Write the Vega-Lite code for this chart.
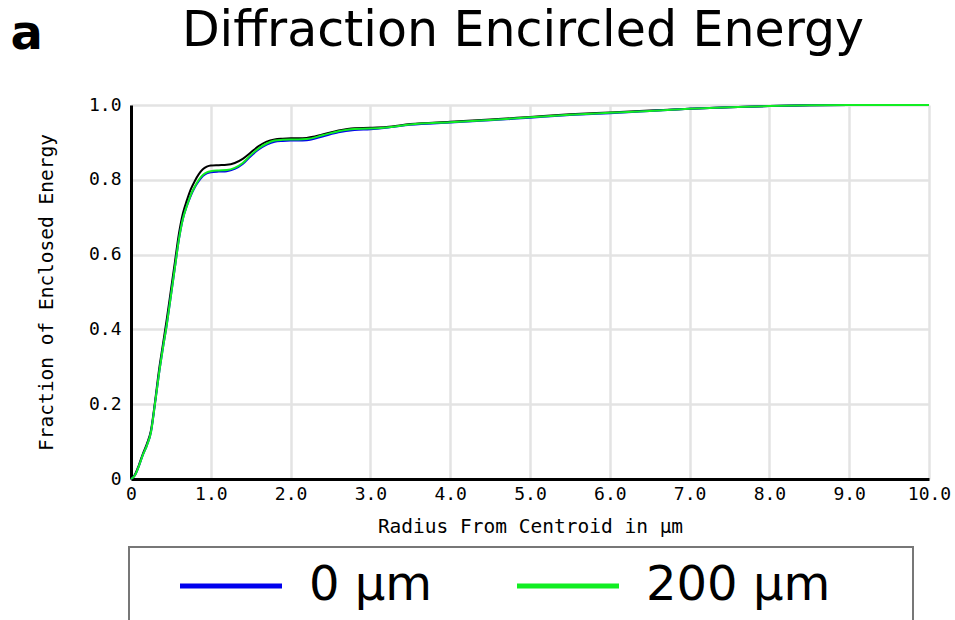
{
  "$schema": "https://vega.github.io/schema/vega-lite/v6.json",
  "width": 798,
  "height": 374,
  "autosize": {"type": "none"},
  "padding": {"left": 131, "top": 105, "right": 26, "bottom": 141},
  "background": "white",
  "title": {"text": "Diffraction Encircled Energy", "font": "DejaVu Sans", "fontSize": 49, "fontWeight": "normal", "color": "black", "anchor": "middle", "frame": "group", "dx": -7, "dy": 46, "offset": 0},
  "config": {
    "view": {"stroke": null},
    "axis": {"labelFont": "DejaVu Sans Mono", "labelFontSize": 18, "labelColor": "black", "titleFont": "DejaVu Sans Mono", "titleFontSize": 19.5, "titleFontWeight": "normal", "titleColor": "black"},
    "legend": {"strokeWidth": 2}
  },
  "datasets": {
    "diff": [
      {"r": 0, "ee": 0}, {"r": 0.05, "ee": 0.012}, {"r": 0.1, "ee": 0.038}, {"r": 0.15, "ee": 0.068}, {"r": 0.2, "ee": 0.095}, {"r": 0.25, "ee": 0.13}, {"r": 0.3, "ee": 0.205}, {"r": 0.35, "ee": 0.29}, {"r": 0.4, "ee": 0.36}, {"r": 0.45, "ee": 0.43}, {"r": 0.5, "ee": 0.505}, {"r": 0.55, "ee": 0.58}, {"r": 0.6, "ee": 0.655}, {"r": 0.65, "ee": 0.71}, {"r": 0.7, "ee": 0.745}, {"r": 0.75, "ee": 0.775}, {"r": 0.8, "ee": 0.797}, {"r": 0.85, "ee": 0.815}, {"r": 0.9, "ee": 0.828}, {"r": 0.95, "ee": 0.835}, {"r": 1.0, "ee": 0.838}, {"r": 1.1, "ee": 0.839}, {"r": 1.2, "ee": 0.84}, {"r": 1.3, "ee": 0.845}, {"r": 1.4, "ee": 0.856}, {"r": 1.5, "ee": 0.873}, {"r": 1.6, "ee": 0.89}, {"r": 1.7, "ee": 0.902}, {"r": 1.8, "ee": 0.908}, {"r": 1.9, "ee": 0.91}, {"r": 2.0, "ee": 0.911}, {"r": 2.1, "ee": 0.911}, {"r": 2.2, "ee": 0.912}, {"r": 2.4, "ee": 0.921}, {"r": 2.6, "ee": 0.932}, {"r": 2.8, "ee": 0.938}, {"r": 3.0, "ee": 0.939}, {"r": 3.2, "ee": 0.941}, {"r": 3.5, "ee": 0.949}, {"r": 4.0, "ee": 0.955}, {"r": 4.5, "ee": 0.961}, {"r": 5.0, "ee": 0.968}, {"r": 5.5, "ee": 0.975}, {"r": 6.0, "ee": 0.98}, {"r": 6.5, "ee": 0.985}, {"r": 7.0, "ee": 0.99}, {"r": 7.5, "ee": 0.994}, {"r": 8.0, "ee": 0.997}, {"r": 8.5, "ee": 0.999}, {"r": 9.0, "ee": 1.0}, {"r": 10.0, "ee": 1.0}
    ],
    "fields": [
      {"r": 0, "ee": 0, "s": "0 µm"}, {"r": 0.05, "ee": 0.01, "s": "0 µm"}, {"r": 0.1, "ee": 0.035, "s": "0 µm"}, {"r": 0.15, "ee": 0.065, "s": "0 µm"}, {"r": 0.2, "ee": 0.09, "s": "0 µm"}, {"r": 0.25, "ee": 0.125, "s": "0 µm"}, {"r": 0.3, "ee": 0.2, "s": "0 µm"}, {"r": 0.35, "ee": 0.28, "s": "0 µm"}, {"r": 0.4, "ee": 0.35, "s": "0 µm"}, {"r": 0.45, "ee": 0.415, "s": "0 µm"}, {"r": 0.5, "ee": 0.49, "s": "0 µm"}, {"r": 0.55, "ee": 0.565, "s": "0 µm"}, {"r": 0.6, "ee": 0.64, "s": "0 µm"}, {"r": 0.65, "ee": 0.695, "s": "0 µm"}, {"r": 0.7, "ee": 0.73, "s": "0 µm"}, {"r": 0.75, "ee": 0.758, "s": "0 µm"}, {"r": 0.8, "ee": 0.78, "s": "0 µm"}, {"r": 0.85, "ee": 0.797, "s": "0 µm"}, {"r": 0.9, "ee": 0.81, "s": "0 µm"}, {"r": 0.95, "ee": 0.817, "s": "0 µm"}, {"r": 1.0, "ee": 0.82, "s": "0 µm"}, {"r": 1.1, "ee": 0.822, "s": "0 µm"}, {"r": 1.2, "ee": 0.823, "s": "0 µm"}, {"r": 1.3, "ee": 0.829, "s": "0 µm"}, {"r": 1.4, "ee": 0.842, "s": "0 µm"}, {"r": 1.5, "ee": 0.863, "s": "0 µm"}, {"r": 1.6, "ee": 0.881, "s": "0 µm"}, {"r": 1.7, "ee": 0.894, "s": "0 µm"}, {"r": 1.8, "ee": 0.902, "s": "0 µm"}, {"r": 1.9, "ee": 0.904, "s": "0 µm"}, {"r": 2.0, "ee": 0.905, "s": "0 µm"}, {"r": 2.1, "ee": 0.905, "s": "0 µm"}, {"r": 2.2, "ee": 0.906, "s": "0 µm"}, {"r": 2.4, "ee": 0.916, "s": "0 µm"}, {"r": 2.6, "ee": 0.927, "s": "0 µm"}, {"r": 2.8, "ee": 0.933, "s": "0 µm"}, {"r": 3.0, "ee": 0.935, "s": "0 µm"}, {"r": 3.2, "ee": 0.939, "s": "0 µm"}, {"r": 3.5, "ee": 0.947, "s": "0 µm"}, {"r": 4.0, "ee": 0.953, "s": "0 µm"}, {"r": 4.5, "ee": 0.959, "s": "0 µm"}, {"r": 5.0, "ee": 0.966, "s": "0 µm"}, {"r": 5.5, "ee": 0.973, "s": "0 µm"}, {"r": 6.0, "ee": 0.978, "s": "0 µm"}, {"r": 6.5, "ee": 0.984, "s": "0 µm"}, {"r": 7.0, "ee": 0.99, "s": "0 µm"}, {"r": 7.5, "ee": 0.994, "s": "0 µm"}, {"r": 8.0, "ee": 0.997, "s": "0 µm"}, {"r": 8.5, "ee": 0.999, "s": "0 µm"}, {"r": 9.0, "ee": 1.0, "s": "0 µm"}, {"r": 10.0, "ee": 1.0, "s": "0 µm"},
      {"r": 0, "ee": 0, "s": "200 µm"}, {"r": 0.05, "ee": 0.01, "s": "200 µm"}, {"r": 0.1, "ee": 0.035, "s": "200 µm"}, {"r": 0.15, "ee": 0.065, "s": "200 µm"}, {"r": 0.2, "ee": 0.09, "s": "200 µm"}, {"r": 0.25, "ee": 0.125, "s": "200 µm"}, {"r": 0.3, "ee": 0.2, "s": "200 µm"}, {"r": 0.35, "ee": 0.28, "s": "200 µm"}, {"r": 0.4, "ee": 0.35, "s": "200 µm"}, {"r": 0.45, "ee": 0.415, "s": "200 µm"}, {"r": 0.5, "ee": 0.49, "s": "200 µm"}, {"r": 0.55, "ee": 0.565, "s": "200 µm"}, {"r": 0.6, "ee": 0.64, "s": "200 µm"}, {"r": 0.65, "ee": 0.695, "s": "200 µm"}, {"r": 0.7, "ee": 0.73, "s": "200 µm"}, {"r": 0.75, "ee": 0.76, "s": "200 µm"}, {"r": 0.8, "ee": 0.782, "s": "200 µm"}, {"r": 0.85, "ee": 0.8, "s": "200 µm"}, {"r": 0.9, "ee": 0.813, "s": "200 µm"}, {"r": 0.95, "ee": 0.82, "s": "200 µm"}, {"r": 1.0, "ee": 0.823, "s": "200 µm"}, {"r": 1.1, "ee": 0.825, "s": "200 µm"}, {"r": 1.2, "ee": 0.826, "s": "200 µm"}, {"r": 1.3, "ee": 0.832, "s": "200 µm"}, {"r": 1.4, "ee": 0.845, "s": "200 µm"}, {"r": 1.5, "ee": 0.866, "s": "200 µm"}, {"r": 1.6, "ee": 0.884, "s": "200 µm"}, {"r": 1.7, "ee": 0.897, "s": "200 µm"}, {"r": 1.8, "ee": 0.905, "s": "200 µm"}, {"r": 1.9, "ee": 0.907, "s": "200 µm"}, {"r": 2.0, "ee": 0.908, "s": "200 µm"}, {"r": 2.1, "ee": 0.908, "s": "200 µm"}, {"r": 2.2, "ee": 0.909, "s": "200 µm"}, {"r": 2.4, "ee": 0.919, "s": "200 µm"}, {"r": 2.6, "ee": 0.93, "s": "200 µm"}, {"r": 2.8, "ee": 0.936, "s": "200 µm"}, {"r": 3.0, "ee": 0.937, "s": "200 µm"}, {"r": 3.2, "ee": 0.94, "s": "200 µm"}, {"r": 3.5, "ee": 0.948, "s": "200 µm"}, {"r": 4.0, "ee": 0.954, "s": "200 µm"}, {"r": 4.5, "ee": 0.96, "s": "200 µm"}, {"r": 5.0, "ee": 0.967, "s": "200 µm"}, {"r": 5.5, "ee": 0.974, "s": "200 µm"}, {"r": 6.0, "ee": 0.979, "s": "200 µm"}, {"r": 6.5, "ee": 0.984, "s": "200 µm"}, {"r": 7.0, "ee": 0.99, "s": "200 µm"}, {"r": 7.5, "ee": 0.994, "s": "200 µm"}, {"r": 8.0, "ee": 0.997, "s": "200 µm"}, {"r": 8.5, "ee": 0.999, "s": "200 µm"}, {"r": 9.0, "ee": 1.0, "s": "200 µm"}, {"r": 10.0, "ee": 1.0, "s": "200 µm"}
    ]
  },
  "layer": [
    {
      "data": {"name": "diff"},
      "mark": {"type": "line", "color": "black", "strokeWidth": 2, "interpolate": "monotone"},
      "encoding": {
        "x": {"field": "r", "type": "quantitative", "scale": {"domain": [0, 10], "nice": false},
          "axis": {"orient": "top", "title": "a", "labels": false, "ticks": false, "domain": false, "grid": false,
            "titleFont": "DejaVu Sans", "titleFontWeight": "bold", "titleFontSize": 48, "titleX": -121, "titleY": -57, "titleAlign": "left", "titleBaseline": "alphabetic", "titleAngle": 0}},
        "y": {"field": "ee", "type": "quantitative", "scale": {"domain": [0, 1], "nice": false},
          "axis": {"title": "Fraction of Enclosed Energy", "values": [0, 0.1, 0.2, 0.3, 0.4, 0.5, 0.6, 0.7, 0.8, 0.9, 1.0],
            "labelExpr": "datum.value == 0 ? '0' : (round(datum.value * 10) % 2 == 0 ? format(datum.value, '.1f') : '')",
            "grid": true, "gridColor": "#e3e3e3", "gridWidth": 2.5, "ticks": false, "domain": true, "domainColor": "black", "domainWidth": 3,
            "labelPadding": 10, "titlePadding": 32}}
      }
    },
    {
      "data": {"name": "fields"},
      "mark": {"type": "line", "strokeWidth": 2, "interpolate": "monotone"},
      "encoding": {
        "x": {"field": "r", "type": "quantitative", "scale": {"domain": [0, 10], "nice": false},
          "axis": {"orient": "bottom", "title": "Radius From Centroid in µm", "values": [0, 1, 2, 3, 4, 5, 6, 7, 8, 9, 10],
            "labelExpr": "datum.value == 0 ? '0' : format(datum.value, '.1f')", "labelFlush": false,
            "grid": true, "gridColor": "#e3e3e3", "gridWidth": 2.5, "ticks": false, "domain": true, "domainColor": "black", "domainWidth": 3,
            "labelPadding": 6, "titlePadding": 14}},
        "y": {"field": "ee", "type": "quantitative"},
        "color": {"field": "s", "type": "nominal", "sort": ["0 µm", "200 µm"],
          "scale": {"domain": ["0 µm", "200 µm"], "range": ["#0000ee", "#11ee22"]},
          "legend": {"title": "\u00a0", "titleOrient": "right", "titleFontSize": 48, "titlePadding": 68, "titleFont": "DejaVu Sans",
            "orient": "none", "legendX": -2, "legendY": 442, "direction": "horizontal",
            "symbolType": "M0,0H8", "symbolSize": 650.25, "symbolStrokeWidth": 5, "symbolOffset": 12,
            "labelFont": "DejaVu Sans", "labelFontSize": 48, "labelColor": "black", "labelOffset": 105, "labelLimit": 500,
            "columnPadding": 48, "padding": 15, "strokeColor": "#777777", "fillColor": "white"}}
      }
    }
  ],
  "resolve": {"axis": {"x": "independent"}}
}
